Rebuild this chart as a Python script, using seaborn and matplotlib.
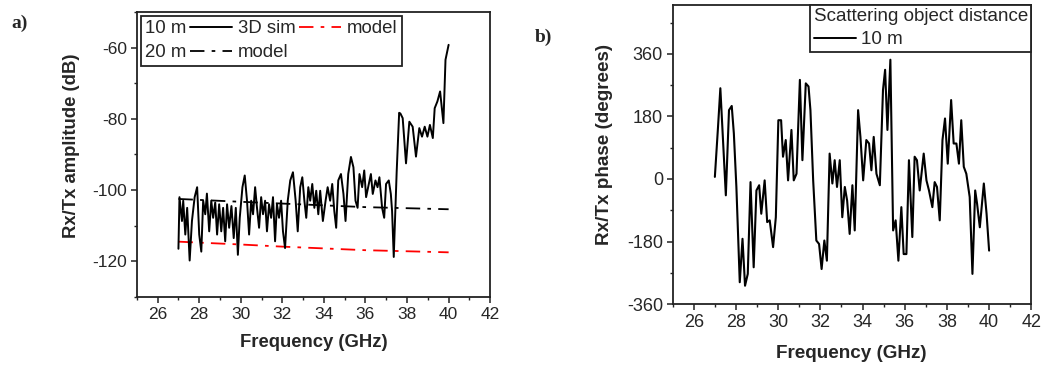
import numpy as np
import pandas as pd
import seaborn as sns
import matplotlib
matplotlib.use("Agg")
import matplotlib.pyplot as plt
from matplotlib.lines import Line2D
from matplotlib.ticker import MultipleLocator

# ---------------- data ----------------
# (a) received/transmitted amplitude, 10 m scatterer, 3D simulation
freq_sim = [27.0, 27.05, 27.17, 27.23, 27.33, 27.42, 27.54, 27.65, 27.78, 27.9,
            28.0, 28.1, 28.19, 28.29, 28.37, 28.48, 28.58, 28.67, 28.77, 28.86,
            28.96, 29.06, 29.15, 29.25, 29.34, 29.44, 29.55, 29.66, 29.76, 29.86,
            29.95, 30.08, 30.19, 30.3, 30.4, 30.5, 30.59, 30.69, 30.78, 30.88,
            30.98, 31.07, 31.17, 31.26, 31.36, 31.46, 31.55, 31.65, 31.74, 31.84,
            31.94, 32.03, 32.13, 32.26, 32.38, 32.51, 32.64, 32.74, 32.86, 32.96,
            33.06, 33.15, 33.25, 33.34, 33.44, 33.54, 33.63, 33.73, 33.82, 33.95,
            34.08, 34.18, 34.3, 34.4, 34.5, 34.59, 34.69, 34.82, 34.94, 35.04,
            35.17, 35.3, 35.42, 35.52, 35.62, 35.71, 35.84, 35.94, 36.03, 36.16,
            36.26, 36.35, 36.48, 36.58, 36.67, 36.8, 36.9, 36.99, 37.12, 37.22,
            37.28, 37.36, 37.5, 37.62, 37.68, 37.79, 37.95, 38.11, 38.27, 38.43,
            38.59, 38.72, 38.85, 38.98, 39.1, 39.24, 39.33, 39.46, 39.59, 39.75,
            39.85, 40.0]
amp_sim = [-116.5, -102.0, -108.7, -103.0, -112.5, -105.0, -119.8, -108.7, -102.0, -99.2,
           -112.5, -117.3, -103.0, -106.8, -101.0, -111.6, -103.0, -107.8, -103.5, -112.5,
           -104.0, -111.6, -105.0, -114.4, -104.0, -110.6, -104.5, -113.5, -105.0, -118.2,
           -107.8, -99.2, -95.9, -103.0, -112.5, -103.0, -106.8, -99.2, -105.0, -110.6,
           -102.0, -106.8, -103.0, -111.6, -104.0, -107.8, -102.0, -114.4, -104.0, -107.8,
           -103.0, -111.6, -116.3, -103.0, -97.3, -95.0, -103.0, -111.6, -99.2, -96.4,
           -103.0, -107.8, -99.2, -103.0, -98.3, -105.0, -100.2, -106.8, -100.2, -108.7,
           -103.0, -99.2, -103.0, -98.3, -105.9, -110.6, -97.3, -95.5, -101.1, -108.7,
           -95.5, -90.7, -93.6, -103.0, -105.0, -95.5, -99.2, -94.5, -102.0, -98.3,
           -95.5, -101.1, -97.3, -99.2, -96.4, -105.0, -107.8, -98.3, -97.3, -101.1,
           -105.9, -118.8, -95.0, -78.3, -78.5, -79.8, -92.5, -80.8, -82.2, -90.6,
           -82.6, -85.0, -82.2, -85.0, -81.7, -85.4, -77.0, -75.1, -72.3, -81.2,
           -63.4, -59.2]

# (a) model curves
freq_model = [27, 30, 32, 34, 36, 38, 40]
amp_model_10m = [-114.5, -115.3, -115.9, -116.4, -116.9, -117.2, -117.5]
amp_model_20m = [-102.5, -103.3, -103.8, -104.3, -104.8, -105.1, -105.4]

# (b) received/transmitted phase, 10 m scatterer
freq_phase = [27.0, 27.15, 27.26, 27.52, 27.67, 27.8, 27.9, 28.02, 28.18, 28.31,
              28.43, 28.56, 28.69, 28.84, 28.97, 29.1, 29.2, 29.36, 29.48, 29.6,
              29.76, 29.89, 30.01, 30.14, 30.23, 30.36, 30.47, 30.63, 30.74, 30.87,
              31.03, 31.15, 31.31, 31.44, 31.53, 31.66, 31.81, 31.94, 32.06, 32.19,
              32.31, 32.44, 32.57, 32.68, 32.79, 32.92, 33.04, 33.16, 33.27, 33.39,
              33.52, 33.63, 33.79, 33.9, 34.03, 34.18, 34.31, 34.42, 34.53, 34.66,
              34.82, 34.97, 35.07, 35.18, 35.32, 35.45, 35.57, 35.7, 35.84, 35.95,
              36.08, 36.2, 36.36, 36.47, 36.58, 36.71, 36.9, 37.03, 37.15, 37.31,
              37.42, 37.53, 37.66, 37.79, 37.91, 38.04, 38.2, 38.32, 38.45, 38.57,
              38.68, 38.8, 38.92, 39.08, 39.21, 39.34, 39.43, 39.56, 39.75, 39.88,
              40.0]
phase_deg = [6, 150, 261, -47, 198, 210, 131, -23, -297, -172,
             -307, -273, -9, -254, -33, -18, -100, -4, -124, -119,
             -196, -110, 169, 169, 64, 112, -4, 141, -4, 15,
             285, 54, 275, 266, 198, -4, -177, -187, -259, -177,
             -235, 73, -13, 54, -23, 54, -110, -23, -62, -158,
             -18, -148, 198, 121, -4, 112, 102, 25, 121, 15,
             -18, 256, 314, 141, 343, -148, -119, -235, -81, -216,
             -216, 54, -167, 64, 54, -33, 73, -4, -33, -81,
             -9, -23, -119, 112, 174, 44, 227, 102, 102, 44,
             169, 35, 15, -52, -273, -33, -71, -139, -13, -100,
             -206]

xticks = [26, 28, 30, 32, 34, 36, 38, 40, 42]
amp_ticks = [-120, -100, -80, -60]
phase_ticks = [-360, -180, 0, 180, 360]

# ---------------- style ----------------
sns.set_style("ticks")
plt.rcParams["font.family"] = ["Liberation Sans", "DejaVu Sans"]
plt.rcParams["axes.unicode_minus"] = False
plt.rcParams["axes.linewidth"] = 1.3
plt.rcParams["axes.edgecolor"] = "#222222"

DASHDOT = (0, (8, 4, 2, 4))

fig = plt.figure(figsize=(10.61, 3.66), dpi=100)
ax_a = fig.add_axes([0.129, 0.189, 0.333, 0.778])
ax_b = fig.add_axes([0.634, 0.169, 0.338, 0.817])

df_sim = pd.DataFrame({"f": freq_sim, "amp": amp_sim})
df_model = pd.DataFrame({"f": freq_model, "m10": amp_model_10m, "m20": amp_model_20m})
df_phase = pd.DataFrame({"f": freq_phase, "deg": phase_deg})

# ---- panel (a) ----
sns.lineplot(data=df_model, x="f", y="m20", ax=ax_a, color="black",
             linewidth=1.3, linestyle=DASHDOT, estimator=None, sort=False)
sns.lineplot(data=df_model, x="f", y="m10", ax=ax_a, color="#ff0000",
             linewidth=1.3, linestyle=DASHDOT, estimator=None, sort=False)
sns.lineplot(data=df_sim, x="f", y="amp", ax=ax_a, color="black",
             linewidth=1.4, estimator=None, sort=False)

# ---- panel (b) ----
sns.lineplot(data=df_phase, x="f", y="deg", ax=ax_b, color="black",
             linewidth=1.5, estimator=None, sort=False)

for ax, yt, ylim, ysub, tfs in [(ax_a, amp_ticks, (-130, -50), 10, 12.5),
                                (ax_b, phase_ticks, (-360, 500), 90, 13)]:
    ax.set_xlim(25, 42)
    ax.set_ylim(*ylim)
    ax.set_xticks(xticks)
    ax.set_yticks(yt)
    ax.xaxis.set_minor_locator(MultipleLocator(1))
    ax.yaxis.set_minor_locator(MultipleLocator(ysub))
    ax.tick_params(which="major", direction="out", length=4, width=1.1,
                   labelsize=tfs, pad=3, color="#222222")
    ax.tick_params(which="minor", direction="out", length=2.5, width=1.0,
                   color="#222222")
    ax.tick_params(top=False, right=False, which="both")
    for s in ax.spines.values():
        s.set_visible(True)
        s.set_linewidth(1.3)

ax_a.set_xlabel("Frequency (GHz)", fontsize=13.3, fontweight="bold")
ax_a.set_ylabel("Rx/Tx amplitude (dB)", fontsize=13.3, fontweight="bold")
ax_b.set_xlabel("Frequency (GHz)", fontsize=13.6, fontweight="bold")
ax_b.set_ylabel("Rx/Tx phase (degrees)", fontsize=13.6, fontweight="bold")

for ax, xl, yl in [(ax_a, (0.501, -0.161), (-0.184, 0.530)),
                   (ax_b, (0.499, -0.164), (-0.189, 0.535))]:
    ax.xaxis.set_label_coords(*xl)
    ax.xaxis.label.set_verticalalignment("center")
    ax.yaxis.set_label_coords(*yl)
    ax.yaxis.label.set_verticalalignment("center")

# ---- legends ----
blank = Line2D([], [], alpha=0)
h_sim = Line2D([], [], color="black", linewidth=1.4)
h_m20 = Line2D([], [], color="black", linewidth=1.3, linestyle=DASHDOT)
h_m10 = Line2D([], [], color="#ff0000", linewidth=1.3, linestyle=DASHDOT)

leg_a = ax_a.legend([blank, blank, h_sim, h_m20, h_m10, blank],
                    ["10 m", "20 m", "3D sim", "model", "model", ""],
                    ncol=3, loc="upper left", fontsize=13.4, frameon=True,
                    fancybox=False, framealpha=1, edgecolor="#222222",
                    handlelength=2.25, handletextpad=0.3, columnspacing=0.2,
                    labelspacing=0.35, borderpad=0.25, borderaxespad=0.2)
leg_a.get_frame().set_linewidth(1.3)
# the distance labels carry no line sample of their own
for row in leg_a._legend_handle_box.get_children()[0].get_children():
    row.sep = 0
    row.get_children()[0].width = 0

leg_b = ax_b.legend([h_sim], ["10 m"], title="Scattering object distance",
                    loc="upper right", fontsize=13.5, title_fontsize=13.5,
                    alignment="left", frameon=True, fancybox=False, framealpha=1,
                    edgecolor="#222222", handlelength=2.25, handletextpad=0.3,
                    labelspacing=0.1, borderpad=0.18, borderaxespad=0.0)
leg_b.get_frame().set_linewidth(1.3)
leg_b._legend_box.sep = 4

# panel letters
fig.text(20 / 1061, 1 - 23 / 366, "a)", fontsize=14, fontweight="bold",
         family="Liberation Serif", ha="center", va="center")
fig.text(543 / 1061, 1 - 37 / 366, "b)", fontsize=14, fontweight="bold",
         family="Liberation Serif", ha="center", va="center")

fig.savefig("out.png", dpi=100)
